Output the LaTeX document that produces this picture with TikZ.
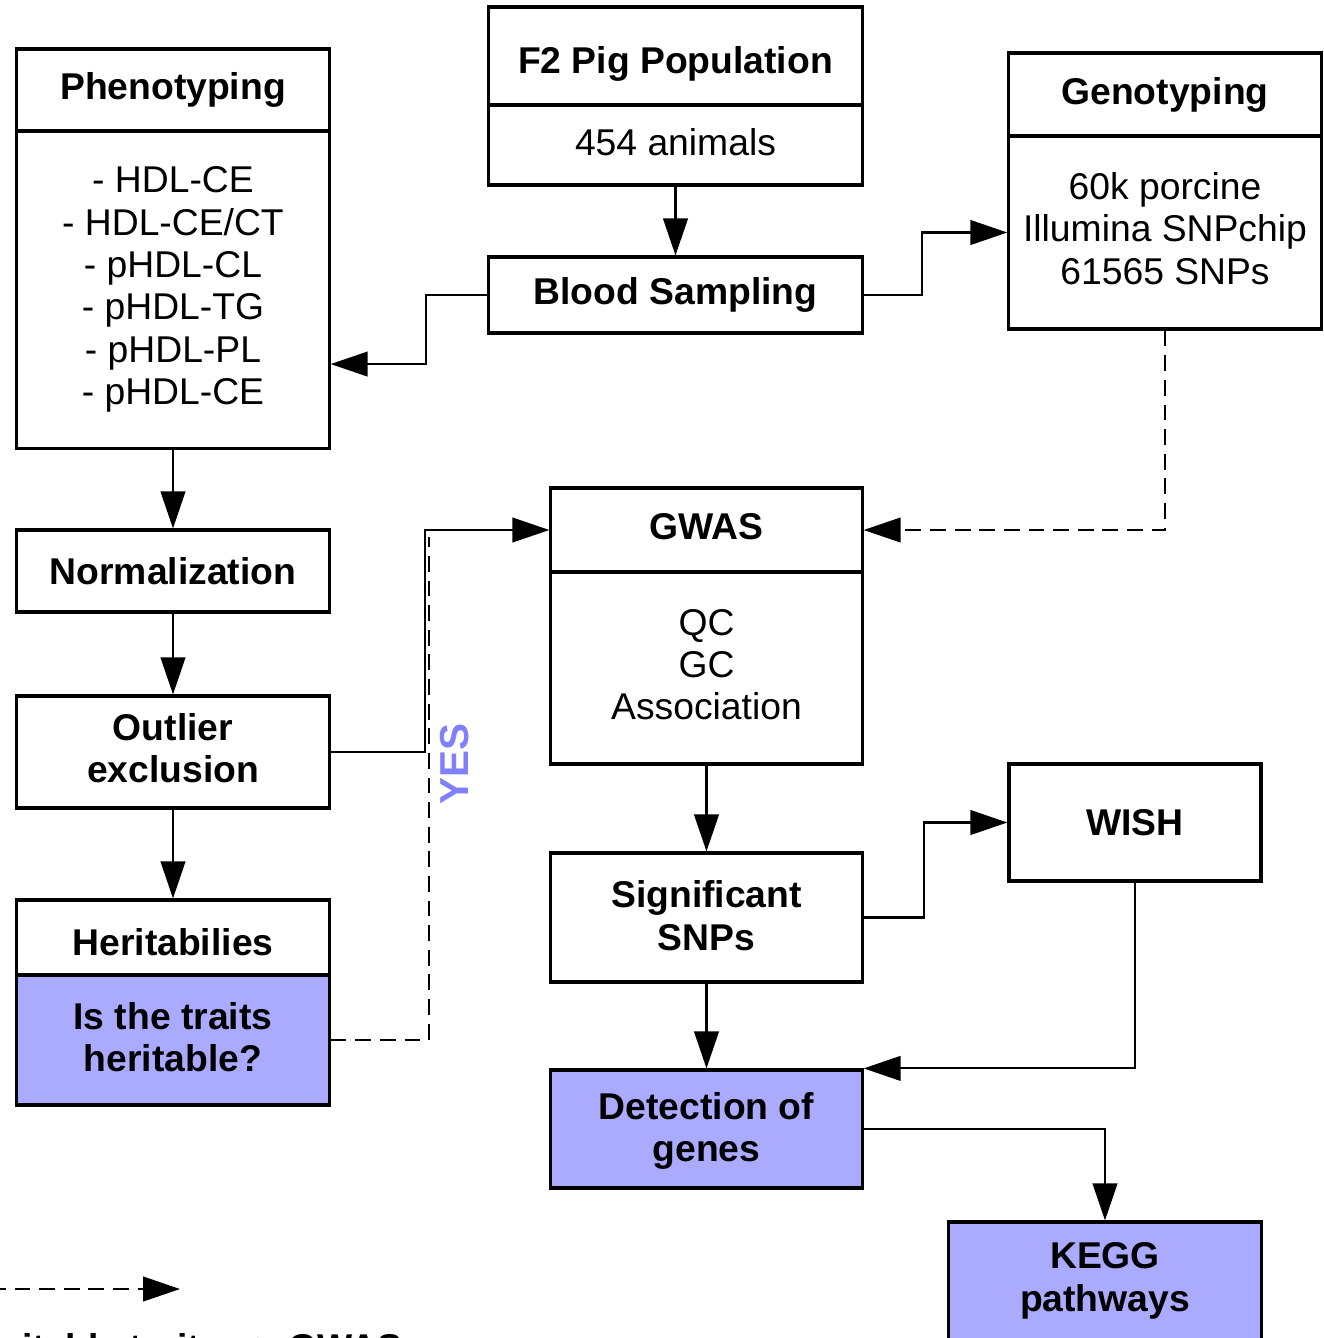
\documentclass[tikz,border=0pt]{standalone}
\usepackage{fontspec}
\setmainfont{Liberation Sans}
\usetikzlibrary{arrows.meta}
\definecolor{boxfill}{RGB}{170,170,255}
\definecolor{yesblue}{RGB}{128,128,255}
% set a (possibly multi-line) label, its glyphs moved by #1 while the box keeps its size
\newcommand\lift[2]{\raisebox{#1}[\height][\depth]{\begin{tabular}{@{}c@{}}#2\end{tabular}}}

\begin{document}
\begin{tikzpicture}[x=0.01cm, y=-0.01cm,
  box/.style={draw, line width=0.9pt, inner sep=0pt, align=center,
              font=\fontsize{10.6}{12.06}\selectfont},
  hd/.style={box, font=\fontsize{10.6}{12.06}\selectfont\bfseries},
  hot/.style={hd, fill=boxfill},
  link/.style={line width=0.6pt, -{Triangle[length=10.5pt,width=7pt]}},
  dashlink/.style={line width=0.6pt, dash pattern=on 4.5pt off 2.5pt},
]
\useasboundingbox (0,0) rectangle (1324,1338);
\clip (0,0) rectangle (1324,1338);

% boxes
\node[hd, minimum width=3.12cm, minimum height=0.82cm] (phenoh) at (173,90) {Phenotyping};
\node[box, minimum width=3.12cm, minimum height=3.17cm] (phenob) at (173,289.5)
  {- HDL-CE\\- HDL-CE/CT\\- pHDL-CL\\- pHDL-TG\\- pHDL-PL\\- pHDL-CE};
\node[hd, minimum width=3.73cm, minimum height=0.98cm] (f2h) at (675.5,56) {\lift{-2.56pt}{F2 Pig Population}};
\node[box, minimum width=3.73cm, minimum height=0.80cm] (f2b) at (675.5,145) {\lift{-0.57pt}{454 animals}};
\node[hd, minimum width=3.73cm, minimum height=0.76cm] (blood) at (675.5,295) {Blood Sampling};
\node[hd, minimum width=3.12cm, minimum height=0.83cm] (genoh) at (1165,94.5) {Genotyping};
\node[box, minimum width=3.12cm, minimum height=1.93cm] (genob) at (1165,232.5)
  {\lift{-0.28pt}{60k porcine\\Illumina SNPchip\\61565 SNPs}};
\node[hd, minimum width=3.12cm, minimum height=0.82cm] (norm) at (173,571) {Normalization};
\node[hd, minimum width=3.12cm, minimum height=1.12cm] (outl) at (173,752) {\lift{-0.28pt}{Outlier\\exclusion}};
\node[hd, minimum width=3.12cm, minimum height=0.75cm] (herh) at (173,937.5) {\lift{-2.56pt}{Heritabilies}};
\node[hot, minimum width=3.12cm, minimum height=1.30cm] (herb) at (173,1040) {\lift{-0.57pt}{Is the traits\\heritable?}};
\node[hd, minimum width=3.11cm, minimum height=0.84cm] (gwash) at (706.5,530) {\lift{-0.28pt}{GWAS}};
\node[box, minimum width=3.11cm, minimum height=1.92cm] (gwasb) at (706.5,668) {\lift{-0.28pt}{QC\\GC\\Association}};
\node[hd, minimum width=3.11cm, minimum height=1.29cm] (sig) at (706.5,917.5) {\lift{-0.85pt}{Significant\\SNPs}};
\node[hd, minimum width=2.52cm, minimum height=1.17cm] (wish) at (1135,822.5) {WISH};
\node[hot, minimum width=3.11cm, minimum height=1.18cm] (det) at (706.5,1129) {\lift{-0.85pt}{Detection of\\genes}};
\node[hot, minimum width=3.12cm, minimum height=1.18cm] (kegg) at (1105,1281) {KEGG\\pathways};

% connectors
\draw[link] (f2b.south) -- (blood.north);
\draw[link] (blood.west) -- ++(-61,0) |- ([yshift=-0.745cm]phenob.east);
\draw[link] (blood.east) -- ++(58,0) |- (genob.west);
\draw[link, dashlink] (genob.south) |- (gwash.east);
\draw[link] (phenob.south) -- (norm.north);
\draw[link] (norm.south) -- (outl.north);
\draw[link] (outl.south) -- (herh.north);
\draw[link] (outl.east) -- ++(94,0) |- (gwash.west);
\draw[dashlink] (herb.east) -- ++(98,0) -- ++(0,-503);
\node[rotate=90, text=yesblue, font=\fontsize{11.5}{12}\selectfont\bfseries] (yes) at (455,764) {YES};
\draw[link] (gwasb.south) -- (sig.north);
\draw[link] (sig.east) -- ++(60,0) |- (wish.west);
\draw[link] (sig.south) -- (det.north);
\draw[link] (wish.south) |- (det.north east);
\draw[link] (det.east) -| (kegg.north);

% legend
\coordinate (legA) at (-10,1289);
\coordinate (legB) at (180,1289);
\draw[link, dashlink] (legA) -- (legB);
\node[anchor=base east, inner sep=0pt, font=\fontsize{10.6}{12.06}\selectfont\bfseries] (legtxt) at (403,1360)
  {Heritable traits -{}-> GWAS};
\end{tikzpicture}
\end{document}
